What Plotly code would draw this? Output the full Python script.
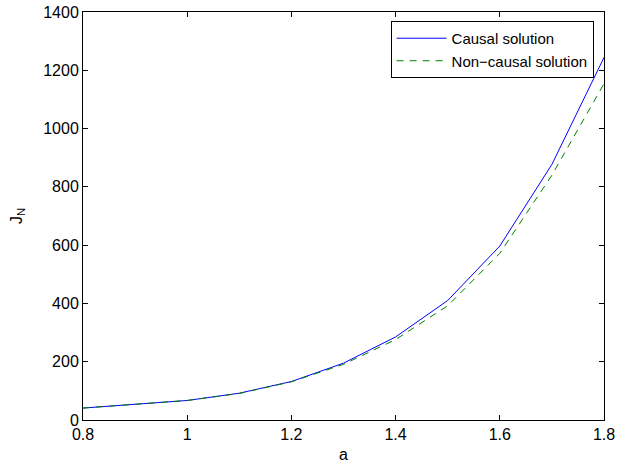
import plotly.graph_objects as go

a_vals = [0.8, 0.9, 1.0, 1.1, 1.2, 1.3, 1.4, 1.5, 1.6, 1.7, 1.8]
causal = [41, 53, 67, 92, 132, 195, 285, 410, 597, 877, 1244]
noncausal = [41, 53, 67, 91, 131, 191, 276, 392, 572, 840, 1154]

x_ticks = [0.8, 1.0, 1.2, 1.4, 1.6, 1.8]
x_labels = ["0.8", "1", "1.2", "1.4", "1.6", "1.8"]
y_ticks = [0, 200, 400, 600, 800, 1000, 1200, 1400]

fig = go.Figure()
fig.add_trace(go.Scatter(x=a_vals, y=causal, mode="lines", name="Causal solution",
                         line=dict(color="#0000ff", width=1)))
fig.add_trace(go.Scatter(x=a_vals, y=noncausal, mode="lines", name="Non\u2212causal solution",
                         line=dict(color="#008000", width=1, dash="7px,6px")))

axis_common = dict(showline=True, linecolor="black", linewidth=1, mirror="ticks",
                   ticks="inside", ticklen=5, tickcolor="black", showgrid=False,
                   zeroline=False, automargin=False, ticklabeloverflow="allow",
                   tickfont=dict(size=16, color="black"))

fig.update_layout(
    width=627, height=463,
    margin=dict(l=83, r=23, t=12, b=43, autoexpand=False),
    paper_bgcolor="white", plot_bgcolor="white",
    font=dict(family="Liberation Sans, Arial, sans-serif", size=16, color="black"),
    xaxis=dict(range=[0.8, 1.8], tickvals=x_ticks, ticktext=x_labels,
               title=dict(text="a", standoff=6, font=dict(size=16)), **axis_common),
    yaxis=dict(range=[0, 1400], tickvals=y_ticks,
               title=dict(text="J<sub>N</sub>", standoff=16, font=dict(size=16)), **axis_common),
    legend=dict(x=0.98, y=0.978, xanchor="right", yanchor="top",
                bordercolor="black", borderwidth=1, bgcolor="white",
                font=dict(size=15), tracegroupgap=0, itemwidth=50),
    showlegend=True,
)

fig.write_html("out.html", config={"displayModeBar": False},
               post_script="document.body.style.margin='0px';")
